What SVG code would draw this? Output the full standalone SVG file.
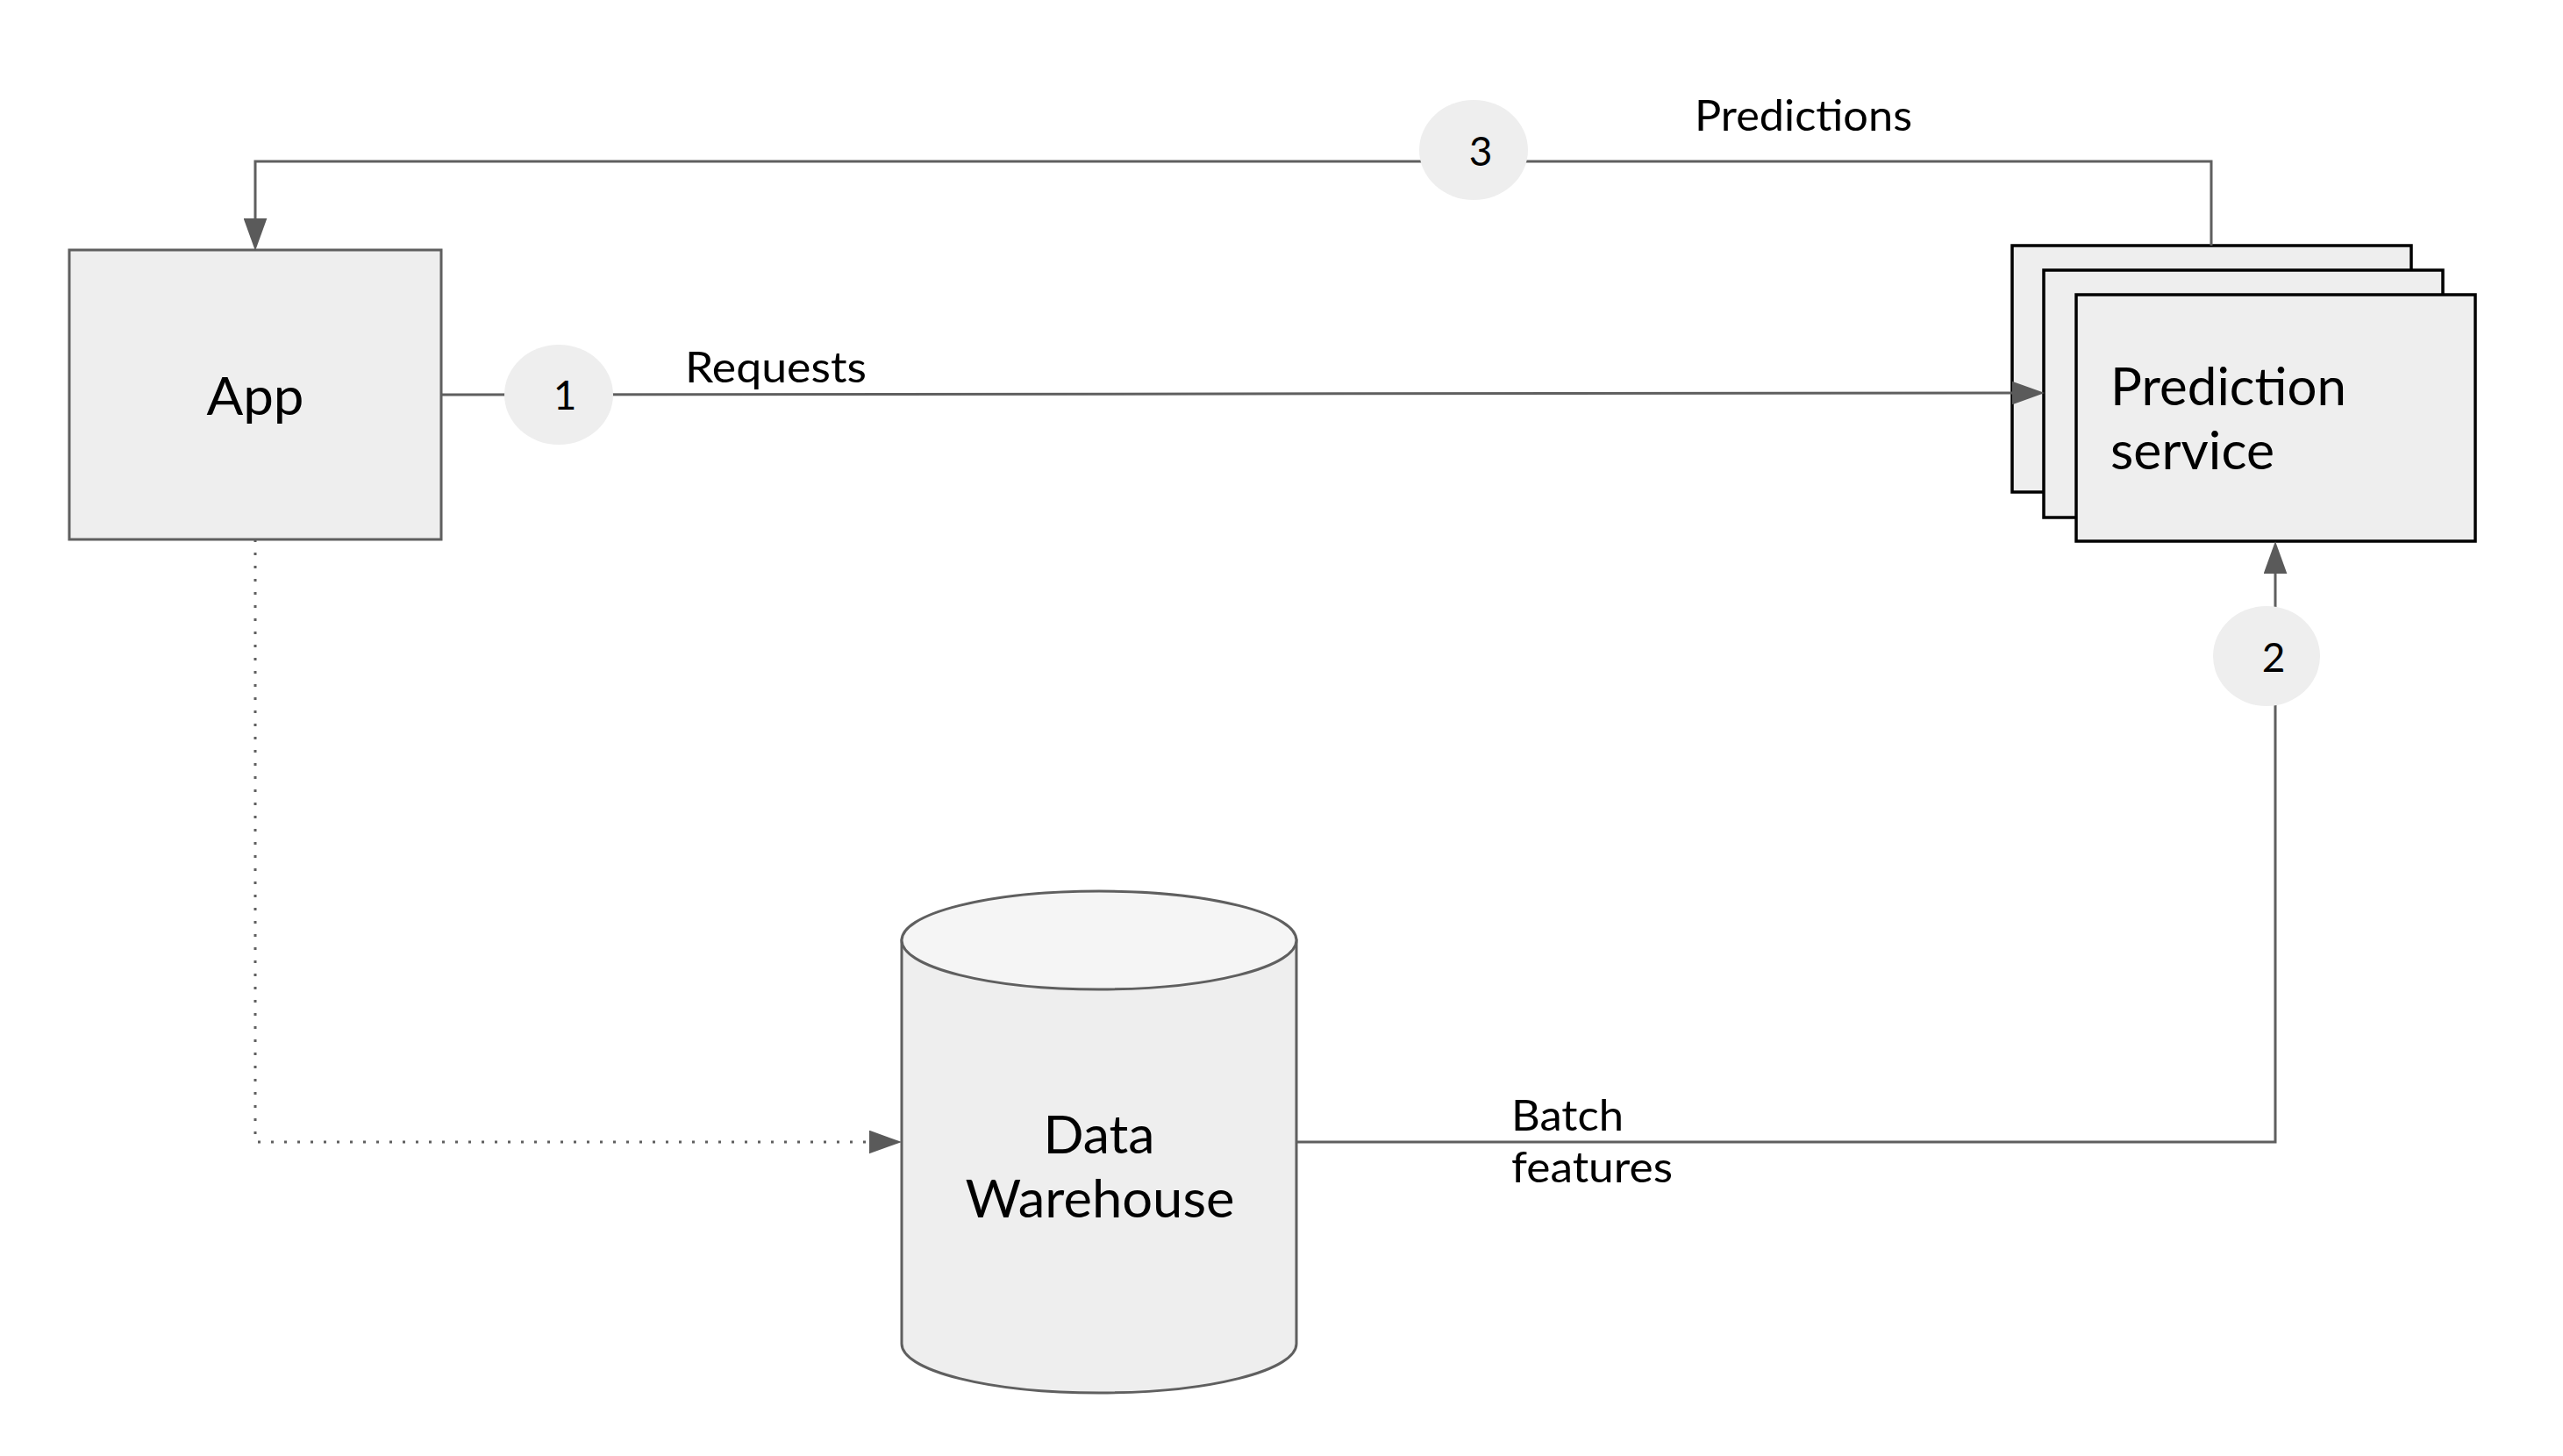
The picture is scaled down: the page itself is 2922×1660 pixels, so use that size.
<svg xmlns="http://www.w3.org/2000/svg" width="2922" height="1660" viewBox="0 0 2922 1660">
<defs>
<style>
.lbl{font-family:Lato,"Open Sans","Liberation Sans",sans-serif;fill:#000}
.node{font-size:60px}
.edge{font-size:48px}
.num{font-size:46px;text-anchor:middle}
.con{fill:none;stroke:#5f5f5f;stroke-width:3}
.dot{stroke-dasharray:3 12}
.badge{fill:#eeeeee;stroke:none}
.ps{fill:#eeeeee;stroke:#000;stroke-width:3.5}
</style>
<marker id="arr" markerUnits="userSpaceOnUse" markerWidth="37" markerHeight="27" viewBox="0 0 36 26" refX="0" refY="13" orient="auto">
<path d="M0,0 L36,13 L0,26 z" fill="#5a5a5a"/>
</marker>
</defs>
<rect width="2922" height="1660" fill="#ffffff"/>
<g id="app">
<rect x="79" y="285" width="424" height="330" fill="#eeeeee" stroke="#5f5f5f" stroke-width="3"/>
<text class="lbl node" x="291" y="473" text-anchor="middle" textLength="111" lengthAdjust="spacingAndGlyphs">App</text>
</g>
<g id="prediction-service">
<rect class="ps" x="2294" y="280" width="455" height="281"/>
<rect class="ps" x="2330" y="308" width="455" height="282"/>
<rect class="ps" x="2367" y="336" width="455" height="281"/>
<text class="lbl node" x="2406" y="462" textLength="269" lengthAdjust="spacingAndGlyphs">Prediction</text>
<text class="lbl node" x="2406" y="535" textLength="187" lengthAdjust="spacingAndGlyphs">service</text>
</g>
<g id="data-warehouse">
<path d="M1028,1072 L1028,1532 A225,56 0 0 0 1478,1532 L1478,1072 Z" fill="#eeeeee" stroke="#5f5f5f" stroke-width="3"/>
<ellipse cx="1253" cy="1072" rx="225" ry="56" fill="#f5f5f5" stroke="#5f5f5f" stroke-width="3"/>
<text class="lbl node" x="1253" y="1315" text-anchor="middle" textLength="127" lengthAdjust="spacingAndGlyphs">Data</text>
<text class="lbl node" x="1254" y="1388" text-anchor="middle" textLength="307" lengthAdjust="spacingAndGlyphs">Warehouse</text>
</g>
<g id="connectors">
<path class="con" d="M503,450 L2294,448" marker-end="url(#arr)"/>
<path class="con" d="M2521,280 L2521,184 L291,184 L291,249" marker-end="url(#arr)"/>
<path class="con" d="M1478,1302 L2594,1302 L2594,654" marker-end="url(#arr)"/>
<path class="con dot" d="M291,615 L291,1302 L991,1302" marker-end="url(#arr)"/>
</g>
<g id="step-1">
<ellipse class="badge" cx="637" cy="450" rx="62" ry="57"/>
<text class="lbl num" x="644" y="467">1</text>
</g>
<g id="step-2">
<ellipse class="badge" cx="2584" cy="748" rx="61" ry="57"/>
<text class="lbl num" x="2592" y="766">2</text>
</g>
<g id="step-3">
<ellipse class="badge" cx="1680" cy="171" rx="62" ry="57"/>
<text class="lbl num" x="1688" y="189">3</text>
</g>
<g id="edge-labels">
<text class="lbl edge" x="781" y="436" textLength="207" lengthAdjust="spacingAndGlyphs">Requests</text>
<text class="lbl edge" x="1932" y="149" textLength="248" lengthAdjust="spacingAndGlyphs">Predictions</text>
<text class="lbl edge" x="1723" y="1289" textLength="128" lengthAdjust="spacingAndGlyphs">Batch</text>
<text class="lbl edge" x="1723" y="1348" textLength="184" lengthAdjust="spacingAndGlyphs">features</text>
</g>
</svg>
